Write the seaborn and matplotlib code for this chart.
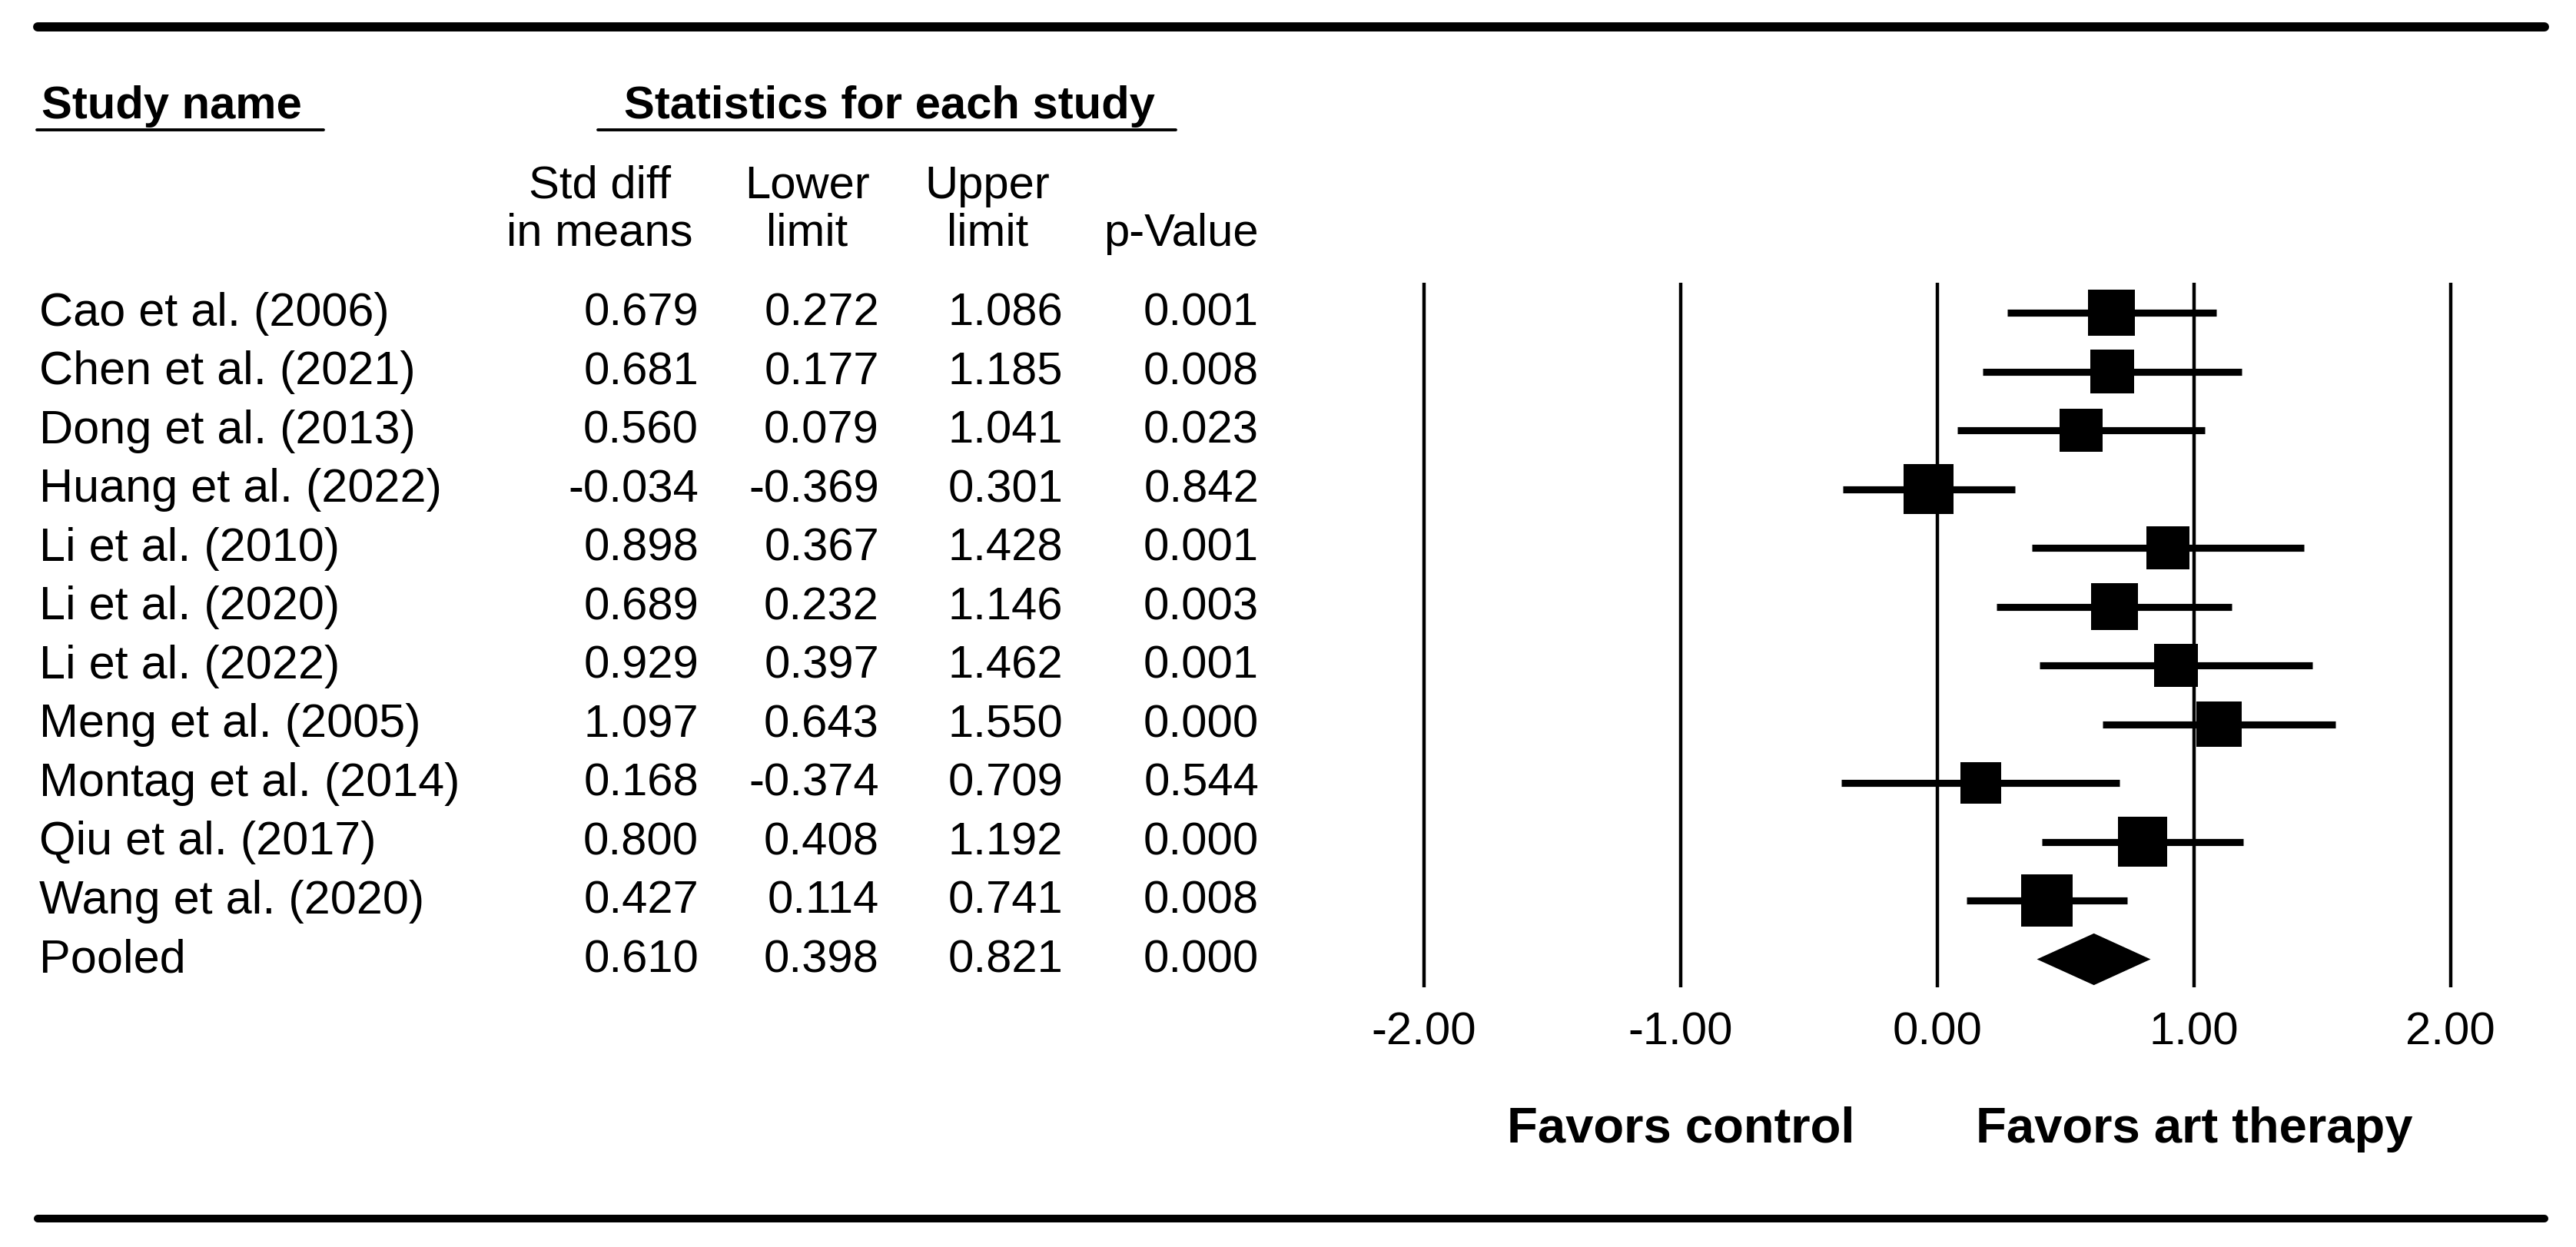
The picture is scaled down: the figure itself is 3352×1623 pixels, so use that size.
import numpy as np
import pandas as pd
import seaborn as sns
import matplotlib.pyplot as plt
import matplotlib.transforms as mtransforms
from matplotlib.lines import Line2D
from matplotlib.patches import Polygon

# Study level data
studies = ["Cao et al. (2006)", "Chen et al. (2021)", "Dong et al. (2013)", "Huang et al. (2022)",
           "Li et al. (2010)", "Li et al. (2020)", "Li et al. (2022)", "Meng et al. (2005)",
           "Montag et al. (2014)", "Qiu et al. (2017)", "Wang et al. (2020)"]
std_diff = [0.679, 0.681, 0.560, -0.034, 0.898, 0.689, 0.929, 1.097, 0.168, 0.800, 0.427]
lower = [0.272, 0.177, 0.079, -0.369, 0.367, 0.232, 0.397, 0.643, -0.374, 0.408, 0.114]
upper = [1.086, 1.185, 1.041, 0.301, 1.428, 1.146, 1.462, 1.550, 0.709, 1.192, 0.741]
p_value = [0.001, 0.008, 0.023, 0.842, 0.001, 0.003, 0.001, 0.000, 0.544, 0.000, 0.008]
# relative weights (%)
rel_weight = [9.4, 8.2, 8.2, 10.7, 8.0, 9.4, 8.2, 8.8, 7.1, 10.4, 11.4]

pooled_name = "Pooled"
pooled_est = 0.610
pooled_lower = 0.398
pooled_upper = 0.821
pooled_p = 0.000

x_ticks = [-2, -1, 0, 1, 2]

# canvas in pixels
W, H = 3352, 1624
ROW0, ROWH = 408, 76.5


def fx(px):
    return px / W


def fy(py):
    return 1 - py / H


def ry(py):
    return (py - ROW0) / ROWH


sns.set_style("white")
plt.rcParams['font.family'] = ['Liberation Sans', 'DejaVu Sans']
plt.rcParams['text.color'] = 'black'

df = pd.DataFrame({'study': studies, 'std_diff': std_diff, 'lower': lower,
                   'upper': upper, 'p': p_value, 'weight': rel_weight})
df['row'] = np.arange(len(df))
pooled_row = len(df)

fig = plt.figure(figsize=(W / 200, H / 200), dpi=200)
ax = fig.add_axes([fx(1753), 1 - 1286 / H, (3289 - 1753) / W, (1286 - 369) / H])

# vertical reference lines
for t in x_ticks:
    ax.axvline(t, color='black', lw=1.6, zorder=1)

# confidence intervals
ax.hlines(df['row'], df['lower'], df['upper'], color='black', lw=3.3, capstyle='butt', zorder=2)

# boxes sized by weight (area proportional to weight)
k = 51.3
wmin, wmax = min(rel_weight), max(rel_weight)
sns.scatterplot(data=df, x='std_diff', y='row', size='weight', sizes=(k * wmin, k * wmax),
                size_norm=(wmin, wmax), marker='s', color='black', linewidth=0,
                legend=False, ax=ax, zorder=3)

# pooled diamond
h = 0.42
ax.add_patch(Polygon([(pooled_lower, pooled_row), (pooled_est, pooled_row - h),
                      (pooled_upper, pooled_row), (pooled_est, pooled_row + h)],
                     closed=True, color='black', zorder=3))

ax.set_xlim(-2.3, 2.3)
ax.set_ylim(ry(1286), ry(369))
ax.set_xticks(x_ticks, labels=[f"{t:.2f}" for t in x_ticks])
ax.set_yticks([])
ax.set_xlabel('')
ax.set_ylabel('')
ax.tick_params(axis='x', length=0, pad=11, labelsize=21.5, colors='black')
sns.despine(ax=ax, left=True, bottom=True)
ax.patch.set_alpha(0)

# favors labels
tr_fav = mtransforms.blended_transform_factory(ax.transData, fig.transFigure)
ax.text(-1, fy(1487), "Favors control", transform=tr_fav, ha='center', va='baseline',
        fontsize=23.5, fontweight='bold')
ax.text(1, fy(1487), "Favors art therapy", transform=tr_fav, ha='center', va='baseline',
        fontsize=23.5, fontweight='bold')

# table headers
fig.text(fx(54), fy(154), "Study name", fontsize=21.5, fontweight='bold', va='baseline')
fig.text(fx(1157), fy(154), "Statistics for each study", fontsize=21.5, fontweight='bold',
         ha='center', va='baseline')
fig.add_artist(Line2D([fx(48), fx(421)], [fy(170)] * 2, lw=1.4, color='black'))
fig.add_artist(Line2D([fx(778), fx(1530)], [fy(170)] * 2, lw=1.4, color='black'))

head_x = [780, 1050, 1285, 1537]
head_top = ["Std diff", "Lower", "Upper", ""]
head_bot = ["in means", "limit", "limit", "p-Value"]
for x, t1, t2 in zip(head_x, head_top, head_bot):
    fig.text(fx(x), fy(258), t1, fontsize=21.5, ha='center', va='baseline')
    fig.text(fx(x), fy(320), t2, fontsize=21.5, ha='center', va='baseline')

# table rows
tr_row = mtransforms.blended_transform_factory(fig.transFigure, ax.transData)
off = 16 / ROWH
col_right = [909, 1144, 1383, 1638]
for _, r in df.iterrows():
    y = r['row'] + off
    ax.text(fx(51), y, r['study'], transform=tr_row, fontsize=22, va='baseline')
    for x, v in zip(col_right, [r['std_diff'], r['lower'], r['upper'], r['p']]):
        ax.text(fx(x), y, f"{v:.3f}", transform=tr_row, fontsize=21.5, ha='right', va='baseline')

y = pooled_row + off
ax.text(fx(51), y, pooled_name, transform=tr_row, fontsize=22, va='baseline')
for x, v in zip(col_right, [pooled_est, pooled_lower, pooled_upper, pooled_p]):
    ax.text(fx(x), y, f"{v:.3f}", transform=tr_row, fontsize=21.5, ha='right', va='baseline')

# thick frame rules
fig.add_artist(Line2D([fx(49), fx(3311)], [fy(36)] * 2, lw=4.3, color='black'))
fig.add_artist(Line2D([fx(49), fx(3311)], [fy(1587)] * 2, lw=3.6, color='black'))

fig.savefig('out.png', dpi=200, facecolor='white')
